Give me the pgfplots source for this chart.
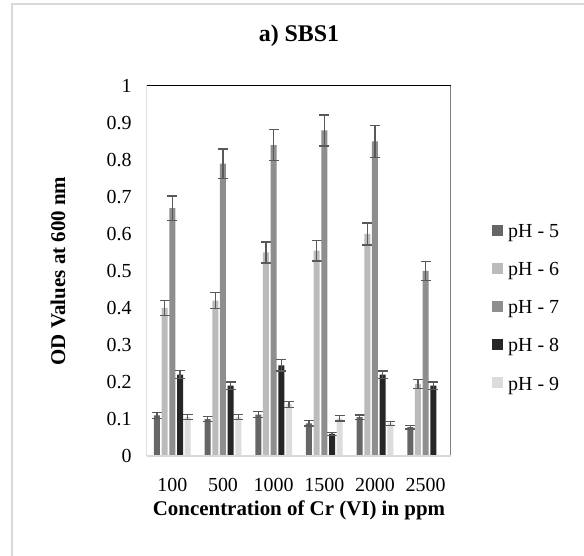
\documentclass[border=0pt]{standalone}
\usepackage{fontspec}
\setmainfont{Liberation Serif}
\usepackage{pgfplots}
\pgfplotsset{compat=1.18}
\definecolor{phA}{HTML}{666666}
\definecolor{phB}{HTML}{BBBBBB}
\definecolor{phC}{HTML}{8E8E8E}
\definecolor{phD}{HTML}{262626}
\definecolor{phE}{HTML}{DCDCDC}
\definecolor{errc}{HTML}{595959}

\begin{document}
\begin{tikzpicture}
\useasboundingbox (-147bp,-100bp) rectangle (437bp,456bp);
\draw[gray!30, line width=1.2bp] (-135bp,-100bp) -- (-135bp,452bp) -- (437bp,452bp);
\begin{axis}[
    at={(0,0)}, anchor=south west,
    scale only axis,
    width=304bp, height=370bp,
    ybar=1.7bp,
    bar width=6bp,
    xmin=-0.5, xmax=5.5,
    ymin=0, ymax=1,
    xtick={0,1,2,3,4,5},
    xticklabels={100,500,1000,1500,2000,2500},
    ytick={0,0.1,...,1},
    major tick length=0pt,
    axis line style={draw=none},
    /pgf/number format/assume math mode=true,
    yticklabel style={/pgf/number format/fixed, /pgf/number format/precision=1, font=\fontsize{20}{24}\selectfont, xshift=-12bp},
    xticklabel style={font=\fontsize{20}{24}\selectfont, anchor=base, yshift=-35bp},
    title={a) SBS1},
    title style={font=\bfseries\fontsize{24}{28}\selectfont, at={(axis description cs:0.5,1.119)}, anchor=center},
    xlabel={Concentration of Cr (VI) in ppm},
    xlabel style={font=\bfseries\fontsize{21}{25}\selectfont, at={(axis description cs:0.5,-0.146)}, anchor=center},
    ylabel={OD Values at 600 nm},
    ylabel style={font=\bfseries\fontsize{21}{25}\selectfont, at={(axis description cs:-0.293,0.5)}, anchor=center},
    legend style={at={(axis description cs:1.135,0.40)}, anchor=west, draw=none, fill=none,
        font=\fontsize{20}{24}\selectfont, row sep=19.5bp, inner sep=0pt,
        /tikz/every odd column/.append style={column sep=3bp}},
    legend cell align=left,
    legend image code/.code={\fill[#1,draw=none] (0bp,-4bp) rectangle (11bp,7bp);},
    error bars/y dir=both,
    error bars/y explicit,
    error bars/error bar style={draw=errc, line width=1.3bp},
    error bars/error mark options={draw=errc, rotate=90, mark size=5bp, line width=1.3bp},
]
\addplot[fill=phA, draw=none] coordinates {
    (0,0.110) +- (0,0.008) (1,0.100) +- (0,0.007) (2,0.112) +- (0,0.008)
    (3,0.088) +- (0,0.007) (4,0.105) +- (0,0.006) (5,0.078) +- (0,0.005)
};
\addplot[fill=phB, draw=none] coordinates {
    (0,0.400) +- (0,0.020) (1,0.420) +- (0,0.022) (2,0.550) +- (0,0.028)
    (3,0.555) +- (0,0.028) (4,0.600) +- (0,0.030) (5,0.195) +- (0,0.012)
};
\addplot[fill=phC, draw=none] coordinates {
    (0,0.670) +- (0,0.033) (1,0.790) +- (0,0.040) (2,0.840) +- (0,0.042)
    (3,0.880) +- (0,0.042) (4,0.850) +- (0,0.043) (5,0.500) +- (0,0.025)
};
\addplot[fill=phD, draw=none] coordinates {
    (0,0.220) +- (0,0.011) (1,0.190) +- (0,0.010) (2,0.245) +- (0,0.015)
    (3,0.060) +- (0,0.004) (4,0.220) +- (0,0.010) (5,0.190) +- (0,0.010)
};
\addplot[fill=phE, draw=none] coordinates {
    (0,0.105) +- (0,0.007) (1,0.106) +- (0,0.007) (2,0.140) +- (0,0.008)
    (3,0.102) +- (0,0.007) (4,0.088) +- (0,0.005)
};
\legend{pH - 5,pH - 6,pH - 7,pH - 8,pH - 9}
\draw[black, line width=1bp] (axis description cs:0,0) -- (axis description cs:0,1) -- (axis description cs:1,1);
\draw[gray, line width=1.2bp] (axis description cs:1,1) -- (axis description cs:1,0);
\draw[gray!30, line width=1.2bp] (axis description cs:0,0) -- (axis description cs:1,0);
\end{axis}
\end{tikzpicture}
\end{document}
